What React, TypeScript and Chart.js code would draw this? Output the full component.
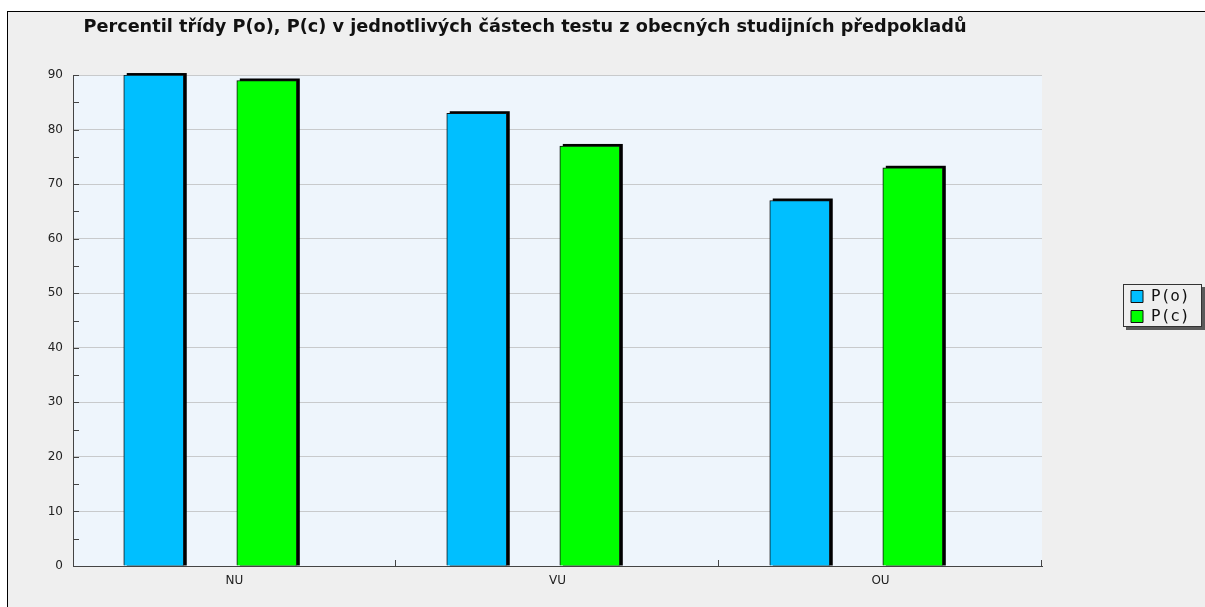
import React, { useEffect, useRef } from 'react';
import { Chart, registerables } from 'chart.js';

Chart.register(...registerables);

const titleText =
  'Percentil třídy P(o), P(c) v jednotlivých částech testu z obecných studijních předpokladů';
const categories = ['NU', 'VU', 'OU'];
const seriesNames = ['P(o)', 'P(c)'];
const valuesPo = [90, 83, 67];
const valuesPc = [89, 77, 73];
const yMin = 0;
const yMax = 90;
const yMajorStep = 10;
const yMinorStep = 5;

const seriesColors = ['#00bfff', '#00ff00'];
const seriesOffsets = [-0.25, 0.1];

const decorPlugin = {
  id: 'decor',
  afterLayout(chart: any) {
    const ca = chart.chartArea;
    const t = chart.titleBlock;
    if (t) {
      t.left = 0;
      t.right = ca.right;
      t.width = ca.right;
    }
    const lg = chart.legend;
    if (lg) {
      const fx = ca.right + 81;
      const fy = Math.round(chart.height / 2 - 26);
      chart.$frame = { x: fx, y: fy, w: 79, h: 43 };
      lg.left = fx + 4;
      lg.right = fx + 79;
      lg.width = 75;
      lg.top = fy;
      lg.bottom = fy + 45;
      lg.height = 45;
    }
  },
  beforeDraw(chart: any) {
    const { ctx, chartArea: ca } = chart;
    ctx.save();
    ctx.fillStyle = '#eef5fc';
    ctx.fillRect(ca.left, ca.top, ca.right - ca.left, ca.bottom - ca.top);
    const f = chart.$frame;
    if (f) {
      ctx.fillStyle = '#5a5a5a';
      ctx.fillRect(f.x + 3, f.y + 3, f.w, f.h);
      ctx.fillStyle = '#efefef';
      ctx.fillRect(f.x, f.y, f.w, f.h);
      ctx.strokeStyle = '#333';
      ctx.lineWidth = 1;
      ctx.strokeRect(f.x + 0.5, f.y + 0.5, f.w - 1, f.h - 1);
    }
    ctx.restore();
  },
  beforeDatasetsDraw(chart: any) {
    const { ctx } = chart;
    ctx.save();
    ctx.fillStyle = '#000';
    chart.data.datasets.forEach((_ds: any, i: number) => {
      const meta = chart.getDatasetMeta(i);
      meta.data.forEach((el: any) => {
        const { x, y, base, width } = el.getProps(['x', 'y', 'base', 'width'], true);
        ctx.fillRect(x - width / 2 + 3, y - 2, width, base - y + 2);
      });
    });
    ctx.restore();
  },
  afterDatasetsDraw(chart: any) {
    const { ctx, chartArea: ca } = chart;
    ctx.save();
    ctx.strokeStyle = '#444';
    ctx.lineWidth = 1;
    const ys = chart.scales.y;
    ys.ticks.forEach((t: any) => {
      const py = Math.round(ys.getPixelForValue(t.value)) + 0.5;
      ctx.beginPath();
      ctx.moveTo(ca.left, py);
      ctx.lineTo(ca.left + 6, py);
      ctx.stroke();
    });
    const xs = chart.scales.x;
    xs.ticks.forEach((t: any) => {
      if (Number.isInteger(t.value) && t.value > 0) {
        const px = Math.round(xs.getPixelForValue(t.value)) - 0.5;
        ctx.beginPath();
        ctx.moveTo(px, ca.bottom);
        ctx.lineTo(px, ca.bottom - 6);
        ctx.stroke();
      }
    });
    ctx.restore();
  },
};

export default function App() {
  const ref = useRef<HTMLCanvasElement>(null);

  useEffect(() => {
    if (!ref.current) return;
    const seriesValues = [valuesPo, valuesPc];
    const chart = new Chart(ref.current, {
      type: 'bar',
      data: {
        datasets: seriesNames.map((name, s) => ({
          label: name,
          data: categories.map((_c, i) => ({ x: i + 0.5 + seriesOffsets[s], y: seriesValues[s][i] })),
          backgroundColor: seriesColors[s],
          borderColor: '#111',
          borderWidth: 1,
          barThickness: 60,
          grouped: false,
        })),
      },
      options: {
        responsive: false,
        animation: false,
        events: [],
        layout: { padding: { left: 0, right: 163, top: 0, bottom: 0 } },
        plugins: {
          title: {
            display: true,
            text: titleText,
            fullSize: false,
            color: '#111',
            font: { family: 'DejaVu Sans', size: 17.7, weight: 'bold', lineHeight: 1.2 },
            padding: { top: 5, bottom: 36.8 },
          },
          legend: {
            display: true,
            position: 'chartArea' as any,
            align: 'center',
            labels: {
              boxWidth: 12,
              boxHeight: 12,
              padding: 4,
              color: '#111',
              font: { family: 'DejaVu Sans Mono', size: 16 },
            },
          },
          tooltip: { enabled: false },
        },
        scales: {
          x: {
            type: 'linear',
            min: 0,
            max: categories.length,
            offset: false,
            afterFit: (s: any) => {
              s.height = 41;
            },
            grid: { display: true, offset: false, drawOnChartArea: false, drawTicks: false },
            border: { display: true, color: '#444', width: 1 },
            ticks: {
              stepSize: 0.5,
              autoSkip: false,
              maxRotation: 0,
              padding: 8,
              color: '#222',
              font: { family: 'DejaVu Sans', size: 12 },
              callback: (v: any) => {
                const n = Number(v);
                return Number.isInteger(n) ? '' : categories[Math.floor(n)];
              },
            },
          },
          y: {
            min: yMin,
            max: yMax,
            afterFit: (s: any) => {
              s.width = 65;
            },
            grid: {
              drawTicks: false,
              color: (ctx: any) =>
                ctx.tick && ctx.tick.value % yMajorStep === 0 && ctx.tick.value !== 0
                  ? '#c8cacc'
                  : 'rgba(0,0,0,0)',
            },
            border: { display: true, color: '#444', width: 1 },
            ticks: {
              stepSize: yMinorStep,
              padding: 10,
              color: '#222',
              font: { family: 'DejaVu Sans', size: 12 },
              callback: (v: any) => (Number(v) % yMajorStep === 0 ? String(v) : ''),
            },
          },
        },
      } as any,
      plugins: [decorPlugin],
    });
    return () => chart.destroy();
  }, []);

  return (
    <>
      <style>{'html,body{overflow:hidden;margin:0;}'}</style>
      <div
        style={{
          position: 'absolute',
          left: 7,
          top: 11,
          width: 1220,
          height: 620,
          border: '1px solid #000',
          background: '#efefef',
          boxSizing: 'border-box',
        }}
      >
        <canvas ref={ref} width={1197} height={595} style={{ display: 'block' }} />
      </div>
    </>
  );
}
